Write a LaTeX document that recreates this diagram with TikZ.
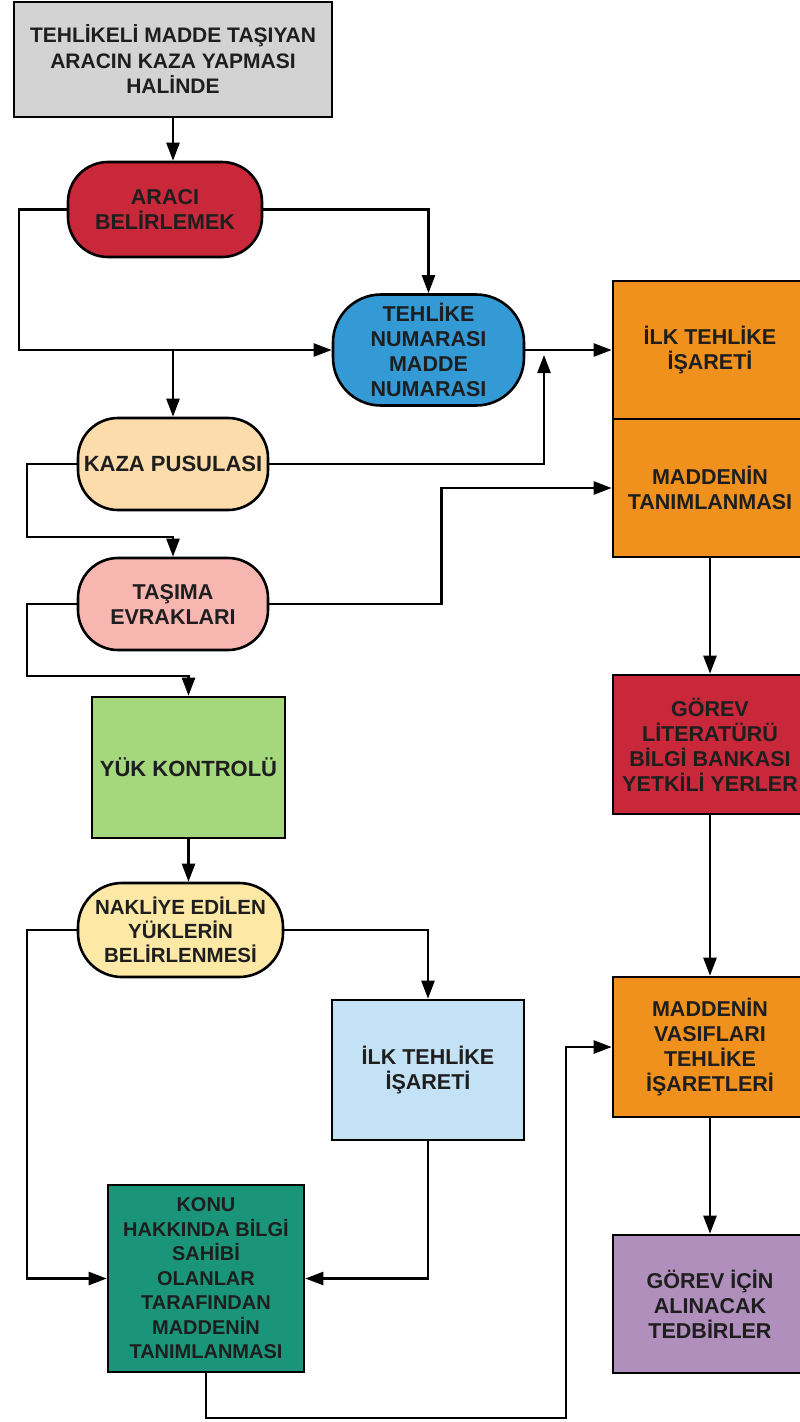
\documentclass[tikz,border=0pt]{standalone}
\usepackage{fontspec}
\setmainfont{Liberation Sans}
\usetikzlibrary{arrows.meta,calc}

\definecolor{ink}{HTML}{1E1E1E}
\definecolor{cgray}{HTML}{D3D3D3}
\definecolor{cred}{HTML}{C8283A}
\definecolor{cblue}{HTML}{349AD6}
\definecolor{cpeach}{HTML}{FCDCAA}
\definecolor{cpink}{HTML}{F8B6B1}
\definecolor{corange}{HTML}{F0911E}
\definecolor{cgreen}{HTML}{A5D87C}
\definecolor{cyellow}{HTML}{FDE8A5}
\definecolor{clblue}{HTML}{C4E2F5}
\definecolor{cteal}{HTML}{1A957A}
\definecolor{cpurple}{HTML}{B08FBC}

\begin{document}
\begin{tikzpicture}[x=1pt,y=-1pt,
  box/.style={draw=black, line width=2.6pt, text=ink, align=center, inner sep=2pt,
    font=\bfseries\fontsize{21.5}{25}\selectfont},
  pill/.style={box, rounded corners=40pt},
  arr/.style={draw=black, line width=2.4pt, -{Triangle[length=18pt,width=13pt]}}]

\clip (0,0) rectangle (800,1422);
\fill[white] (0,0) rectangle (800,1422);

% left column
\node[box, fill=cgray, minimum width=318pt, minimum height=115pt, font=\bfseries\fontsize{21}{25.5}\selectfont] (title) at (173,59.5)
  {TEHLİKELİ MADDE TAŞIYAN\\ARACIN KAZA YAPMASI\\HALİNDE};
\node[pill, fill=cred, minimum width=194pt, minimum height=95pt] (araci) at (165,209.5)
  {ARACI\\BELİRLEMEK};
\node[box, rounded corners=48pt, fill=cblue, minimum width=191pt, minimum height=111pt] (tehlike) at (428.5,350)
  {TEHLİKE\\NUMARASI\\MADDE\\NUMARASI};
\node[pill, fill=cpeach, minimum width=190pt, minimum height=92pt, font=\bfseries\fontsize{22}{25}\selectfont] (kaza) at (173,464)
  {KAZA PUSULASI};
\node[pill, fill=cpink, minimum width=190pt, minimum height=92pt] (tasima) at (173,604)
  {TAŞIMA\\EVRAKLARI};
\node[box, fill=cgreen, minimum width=193pt, minimum height=141pt, font=\bfseries\fontsize{22}{25}\selectfont] (yuk) at (188.5,767.5)
  {YÜK KONTROLÜ};
\node[box, rounded corners=44pt, fill=cyellow, minimum width=205pt, minimum height=94pt, font=\bfseries\fontsize{20.5}{24}\selectfont] (nakliye) at (180.5,930)
  {NAKLİYE EDİLEN\\YÜKLERİN\\BELİRLENMESİ};
\node[box, fill=clblue, minimum width=192pt, minimum height=140pt] (ilkb) at (428,1070)
  {İLK TEHLİKE\\İŞARETİ};
\node[box, fill=cteal, minimum width=196pt, minimum height=187pt, font=\bfseries\fontsize{20}{24.5}\selectfont] (konu) at (206,1278.5)
  {KONU\\HAKKINDA BİLGİ\\SAHİBİ\\OLANLAR\\TARAFINDAN\\MADDENİN\\TANIMLANMASI};

% right column
\node[box, fill=corange, minimum width=194pt, minimum height=138pt] (ilk1) at (710,350)
  {İLK TEHLİKE\\İŞARETİ};
\node[box, fill=corange, minimum width=194pt, minimum height=138pt] (madde) at (710,488)
  {MADDENİN\\TANIMLANMASI};
\node[box, fill=cred, minimum width=194pt, minimum height=139pt] (gorev) at (710,744.5)
  {GÖREV\\LİTERATÜRÜ\\BİLGİ BANKASI\\YETKİLİ YERLER};
\node[box, fill=corange, minimum width=194pt, minimum height=140pt] (vasif) at (710,1047)
  {MADDENİN\\VASIFLARI\\TEHLİKE\\İŞARETLERİ};
\node[box, fill=cpurple, minimum width=194pt, minimum height=138pt] (tedbir) at (710,1304)
  {GÖREV İÇİN\\ALINACAK\\TEDBİRLER};

% connector end points
\coordinate (kup) at (544,355);
\coordinate (kb) at (566,1418);

% connectors
\draw[arr] (title.south) -- (title.south |- araci.north);
\draw[arr] (araci.west) -- ++(-48,0) |- (tehlike.west);
\draw[arr] (araci.east) -| (tehlike.north);
\draw[arr] (tehlike.east) -- (ilk1.west);
\draw[arr] (kaza.north |- tehlike.west) -- (kaza.north);
\draw[arr] (kaza.east) -| (kup);
\draw[arr] (kaza.west) -- ++(-50,0) |- ([yshift=20pt]tasima.north) -- (tasima.north);
\draw[arr] (tasima.east) -- ++(172,0) |- (madde.west);
\draw[arr] (tasima.west) -- ++(-50,0) |- ([yshift=20pt]yuk.north) -- (yuk.north);
\draw[arr] (yuk.south) -- (yuk.south |- nakliye.north);
\draw[arr] (nakliye.west) -- ++(-50,0) |- (konu.west);
\draw[arr] (nakliye.east) -| (ilkb.north);
\draw[arr] (ilkb.south) |- (konu.east);
\draw[arr] (konu.south) |- (kb) |- (vasif.west);
\draw[arr] (madde.south) -- (gorev.north);
\draw[arr] (gorev.south) -- (vasif.north);
\draw[arr] (vasif.south) -- (tedbir.north);
\end{tikzpicture}
\end{document}
